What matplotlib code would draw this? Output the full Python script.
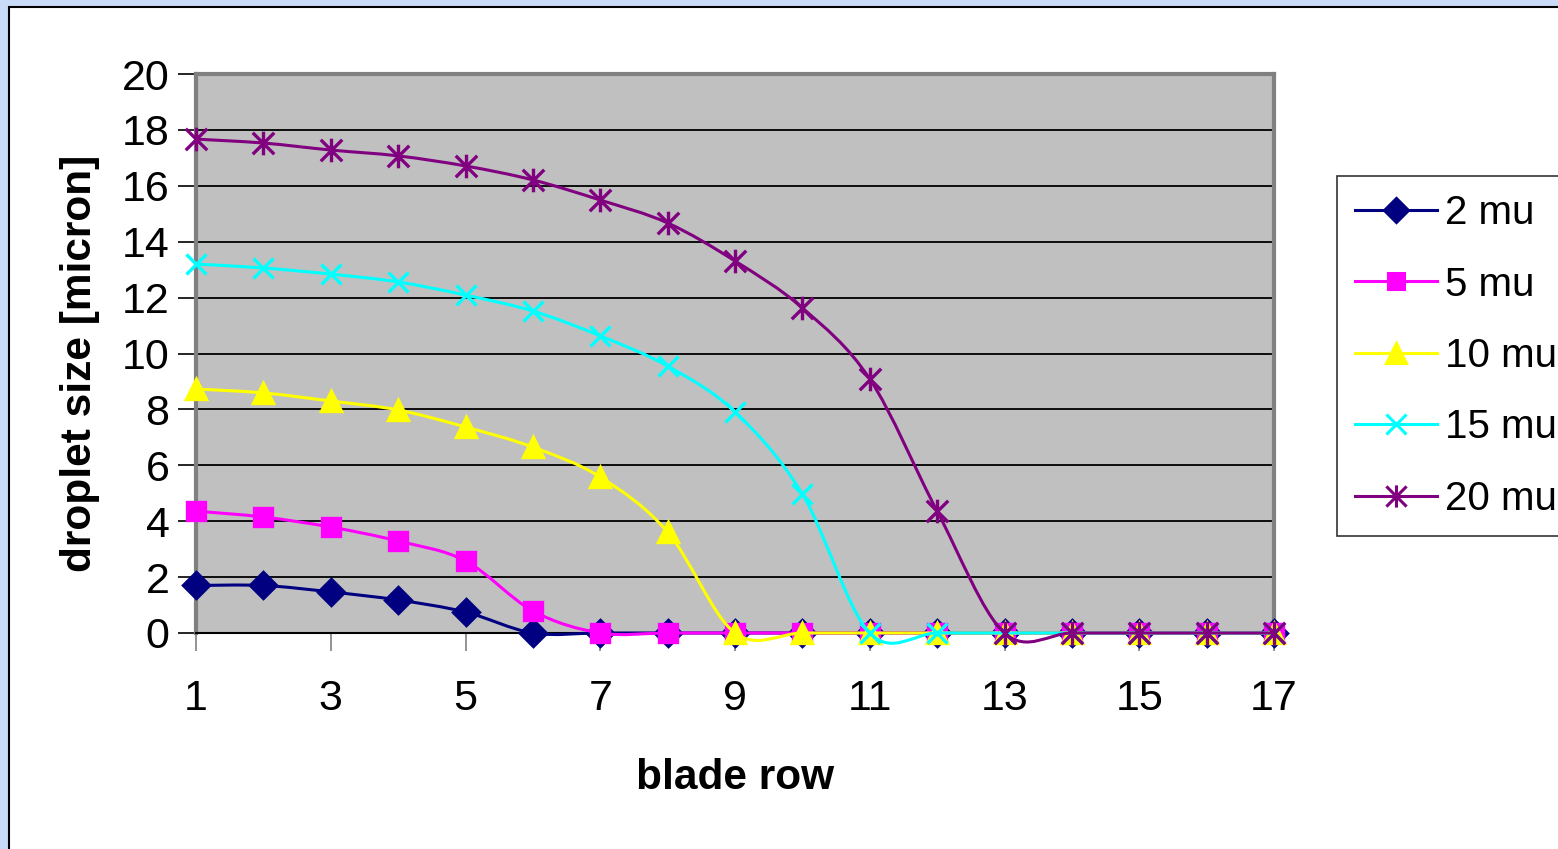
import numpy as np
import matplotlib
matplotlib.use("Agg")
import matplotlib.pyplot as plt
from matplotlib.path import Path
from matplotlib.patches import PathPatch, Rectangle
from matplotlib.lines import Line2D

# ─────────────────────────────────────────────
# Data
# ─────────────────────────────────────────────
blade_row = np.arange(1, 18)

size_2mu  = [1.70, 1.70, 1.47, 1.18, 0.75, 0, 0, 0, 0, 0, 0, 0, 0, 0, 0, 0, 0]
size_5mu  = [4.36, 4.15, 3.79, 3.29, 2.58, 0.79, 0, 0, 0, 0, 0, 0, 0, 0, 0, 0, 0]
size_10mu = [8.73, 8.59, 8.30, 7.98, 7.37, 6.65, 5.58, 3.61, 0, 0, 0, 0, 0, 0, 0, 0, 0]
size_15mu = [13.20, 13.06, 12.84, 12.56, 12.09, 11.52, 10.63, 9.55, 7.91, 4.97,
             0, 0, 0, 0, 0, 0, 0]
size_20mu = [17.67, 17.53, 17.28, 17.07, 16.71, 16.21, 15.49, 14.67, 13.31, 11.63,
             9.09, 4.36, 0, 0, 0, 0, 0]

labels = ["2 mu", "5 mu", "10 mu", "15 mu", "20 mu"]
series = [size_2mu, size_5mu, size_10mu, size_15mu, size_20mu]

x_ticks = [1, 3, 5, 7, 9, 11, 13, 15, 17]
y_ticks = [0, 2, 4, 6, 8, 10, 12, 14, 16, 18, 20]

# Excel-ish star marker: an X with a vertical bar through it
star = Path([(-1, -1), (1, 1), (-1, 1), (1, -1), (0, -1.1), (0, 1.1)],
            [Path.MOVETO, Path.LINETO, Path.MOVETO, Path.LINETO,
             Path.MOVETO, Path.LINETO])

styles = [
    dict(color="#000080", marker="D", ms=13),
    dict(color="#ff00ff", marker="s", ms=13),
    dict(color="#ffff00", marker="^", ms=15),
    dict(color="#00ffff", marker="x", ms=15),
    dict(color="#800080", marker=star, ms=17),
]


def smooth_path(xs, ys):
    """Excel style smoothed line: cubic Bezier through every point."""
    pts = np.column_stack([xs, ys]).astype(float)
    n = len(pts)
    verts = [pts[0]]
    codes = [Path.MOVETO]
    for i in range(n - 1):
        p0 = pts[i - 1] if i > 0 else pts[i]
        p1 = pts[i]
        p2 = pts[i + 1]
        p3 = pts[i + 2] if i + 2 < n else pts[i + 1]
        c1 = p1 + (p2 - p0) / 6.0
        c2 = p2 - (p3 - p1) / 6.0
        verts += [c1, c2, p2]
        codes += [Path.CURVE4] * 3
    return Path(verts, codes)


plt.rcParams["font.family"] = ["Liberation Sans", "DejaVu Sans"]

fig = plt.figure(figsize=(15.58, 8.49), dpi=100)
fig.patch.set_facecolor("#c9dbf7")

# white chart frame sitting on the slide background
frame = Rectangle((9 / 1558, -0.1), 1.2, 1 - 7 / 849 + 0.1,
                  transform=fig.transFigure, facecolor="white",
                  edgecolor="black", linewidth=1.5, zorder=-10)
fig.patches.append(frame)

ax = fig.add_axes([196 / 1558, 1 - 633 / 849, (1274 - 196) / 1558, (633 - 74) / 849])
ax.set_zorder(1)
ax.set_facecolor("#c0c0c0")

for vals, st in zip(series, styles):
    patch = PathPatch(smooth_path(blade_row, vals), fill=False,
                      edgecolor=st["color"], linewidth=2.2, clip_on=False, zorder=3)
    ax.add_patch(patch)
    ax.plot(blade_row, vals, linestyle="none", marker=st["marker"],
            markersize=st["ms"], color=st["color"], markeredgecolor=st["color"],
            markeredgewidth=2.4, clip_on=False, zorder=3)

ax.set_xlim(1, 17)
ax.set_ylim(0, 20)
ax.set_xticks(x_ticks)
ax.set_yticks(y_ticks)
ax.tick_params(axis="both", labelsize=31)
ax.tick_params(axis="y", direction="out", length=13, width=1.2, color="black", pad=6)
ax.tick_params(axis="x", direction="out", length=13, width=1.2, color="#808080", pad=20)

ax.yaxis.grid(True, color="black", linewidth=1.3)
ax.set_axisbelow(True)

for side in ["top", "right", "left"]:
    ax.spines[side].set_color("#808080")
    ax.spines[side].set_linewidth(3)
ax.spines["bottom"].set_color("black")
ax.spines["bottom"].set_linewidth(1.5)

ax.set_xlabel("blade row", fontsize=30.5, fontweight="bold", labelpad=28)
ax.set_ylabel("droplet size [micron]", fontsize=30.5, fontweight="bold")
ax.yaxis.set_label_coords(-0.089, 0.483)

handles = [Line2D([], [], color=st["color"], linewidth=2.2, marker=st["marker"],
                  markersize=st["ms"] - 1, markeredgewidth=2.2,
                  markeredgecolor=st["color"])
           for st in styles]
leg = ax.legend(handles, labels, loc="upper left",
                bbox_to_anchor=(1337 / 1558, 1 - 176 / 849),
                bbox_transform=fig.transFigure, fontsize=29,
                handlelength=2.03, handletextpad=0.2, labelspacing=0.83,
                borderpad=0.45, borderaxespad=0, fancybox=False,
                frameon=True, edgecolor="black")
leg.get_frame().set_linewidth(1.2)

fig.savefig("out.png", dpi=100, facecolor=fig.get_facecolor())
